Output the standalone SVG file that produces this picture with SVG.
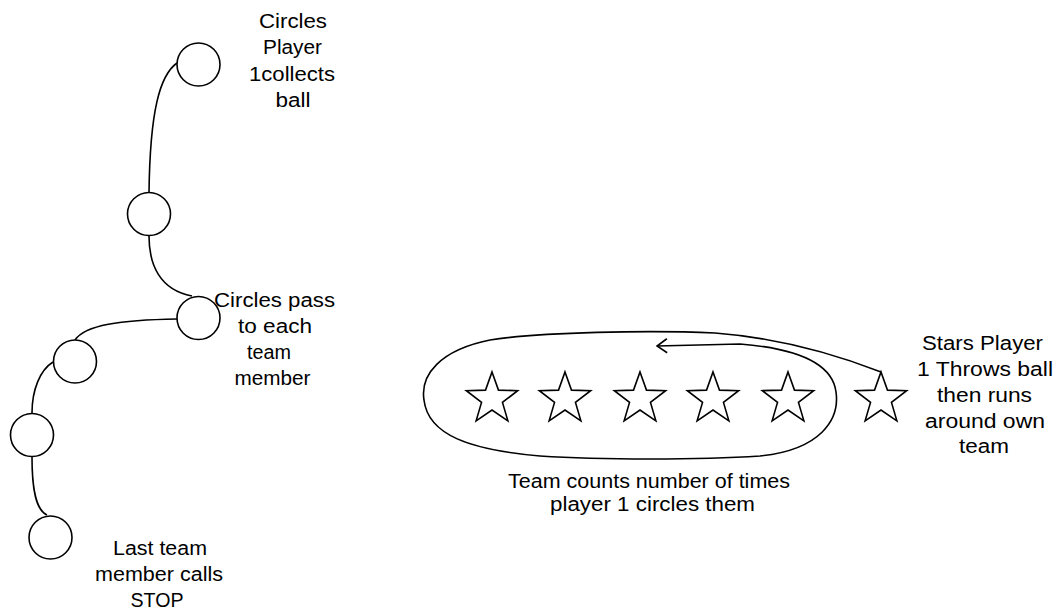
<svg xmlns="http://www.w3.org/2000/svg" width="1054" height="610" viewBox="0 0 1054 610">
  <style>
    .ln { fill: none; stroke: #000; stroke-width: 1.6; }
    .nd { fill: #fff; stroke: #000; stroke-width: 1.6; }
    .tx { font-family: "Liberation Sans", Arial, sans-serif; font-size: 20px; fill: #000; text-anchor: middle; }
  </style>
  <defs>
    <path id="star" d="M0,-27 L6.47,-8.9 L25.68,-8.34 L10.46,3.4 L15.87,21.84 L0,11 L-15.87,21.84 L-10.46,3.4 L-25.68,-8.34 L-6.47,-8.9 Z"/>
    <marker id="open" markerUnits="userSpaceOnUse" viewBox="0 0 12 16" refX="11" refY="8" markerWidth="12" markerHeight="16" orient="auto">
      <path d="M1,1 L11,8 L1,15" fill="none" stroke="#000" stroke-width="1.6"/>
    </marker>
  </defs>
  <rect width="1054" height="610" fill="#fff"/>

  <g id="connectors">
    <path class="ln" d="M177 63 C160 75, 150 110, 149 193"/>
    <path class="ln" d="M149 236 C149 265, 160 290, 192 296"/>
    <path class="ln" d="M177 319 C120 320, 85 325, 75 340"/>
    <path class="ln" d="M53 362 C40 370, 32 390, 32 413"/>
    <path class="ln" d="M32 457 C32 490, 36 510, 47 515"/>
    <path class="ln" marker-end="url(#open)" d="M881 372 C840 356, 780 338, 715 333 C650 330, 540 332, 490 340 C440 350, 420 375, 424 400 C428 435, 470 450, 540 456 C600 460, 700 460, 760 456 C820 450, 840 420, 836 392 C832 360, 790 348, 740 344 L657 346"/>
  </g>

  <g id="circle1"><circle class="nd" cx="198.5" cy="64.5" r="21.5"/></g>
  <g id="circle2"><circle class="nd" cx="149" cy="214" r="21.5"/></g>
  <g id="circle3"><circle class="nd" cx="198.5" cy="318" r="21.5"/></g>
  <g id="circle4"><circle class="nd" cx="75" cy="361.5" r="21.5"/></g>
  <g id="circle5"><circle class="nd" cx="32" cy="435" r="21.5"/></g>
  <g id="circle6"><circle class="nd" cx="50.5" cy="537.5" r="21.5"/></g>

  <g id="star1"><use href="#star" class="nd" x="492" y="399"/></g>
  <g id="star2"><use href="#star" class="nd" x="565" y="399"/></g>
  <g id="star3"><use href="#star" class="nd" x="640" y="399"/></g>
  <g id="star4"><use href="#star" class="nd" x="713" y="399"/></g>
  <g id="star5"><use href="#star" class="nd" x="788" y="399"/></g>
  <g id="star6"><use href="#star" class="nd" x="881" y="399"/></g>

  <g id="label-collects" class="tx">
    <text x="293" y="28" textLength="68" lengthAdjust="spacingAndGlyphs">Circles</text>
    <text x="292.5" y="54.3" textLength="59" lengthAdjust="spacingAndGlyphs">Player</text>
    <text x="292" y="80.6" textLength="86" lengthAdjust="spacingAndGlyphs">1collects</text>
    <text x="293" y="107" textLength="35" lengthAdjust="spacingAndGlyphs">ball</text>
  </g>
  <g id="label-pass" class="tx">
    <text x="274.5" y="307" textLength="121" lengthAdjust="spacingAndGlyphs">Circles pass</text>
    <text x="275" y="333" textLength="74" lengthAdjust="spacingAndGlyphs">to each</text>
    <text x="269" y="359" textLength="44" lengthAdjust="spacingAndGlyphs">team</text>
    <text x="272.5" y="385" textLength="76" lengthAdjust="spacingAndGlyphs">member</text>
  </g>
  <g id="label-stop" class="tx">
    <text x="160" y="555" textLength="94" lengthAdjust="spacingAndGlyphs">Last team</text>
    <text x="159" y="581" textLength="128" lengthAdjust="spacingAndGlyphs">member calls</text>
    <text x="157" y="607" textLength="53" lengthAdjust="spacingAndGlyphs">STOP</text>
  </g>
  <g id="label-stars" class="tx">
    <text x="982.5" y="350" textLength="121" lengthAdjust="spacingAndGlyphs">Stars Player</text>
    <text x="985" y="376" textLength="136" lengthAdjust="spacingAndGlyphs">1 Throws ball</text>
    <text x="984.5" y="402" textLength="95" lengthAdjust="spacingAndGlyphs">then runs</text>
    <text x="985" y="427.5" textLength="120" lengthAdjust="spacingAndGlyphs">around own</text>
    <text x="984" y="453" textLength="50" lengthAdjust="spacingAndGlyphs">team</text>
  </g>
  <g id="label-count" class="tx">
    <text x="649" y="488" textLength="282" lengthAdjust="spacingAndGlyphs">Team counts number of times</text>
    <text x="652.5" y="511" textLength="205" lengthAdjust="spacingAndGlyphs">player 1 circles them</text>
  </g>
</svg>
